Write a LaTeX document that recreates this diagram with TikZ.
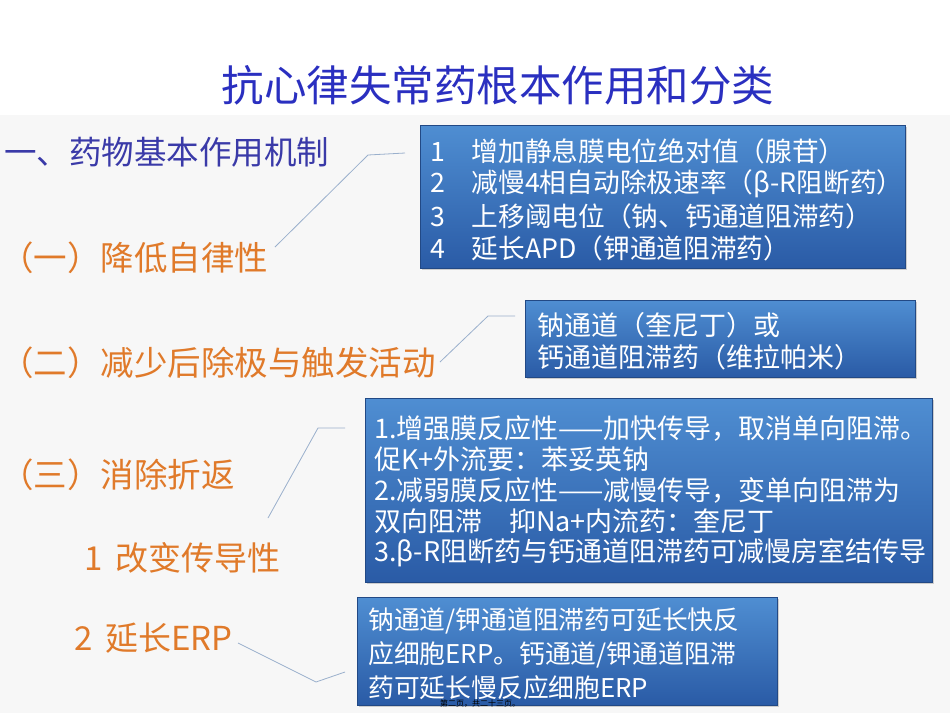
\documentclass[tikz,border=0pt]{standalone}
\usepackage{fontspec}
\setmainfont{Noto Sans CJK SC}
\usetikzlibrary{shadows}
\definecolor{ttl}{HTML}{2A2FC0}
\definecolor{hd}{HTML}{3A3AA8}
\definecolor{org}{HTML}{E07A2A}
\definecolor{btop}{HTML}{4F8ED2}
\definecolor{bbot}{HTML}{2A5BA6}
\definecolor{lnk}{HTML}{9AB0CC}
\tikzset{
  bluebox/.style={top color=btop,bottom color=bbot,draw=bbot!80!black,line width=0.6pt,drop shadow={shadow xshift=2pt,shadow yshift=-2pt,opacity=0.35}},
  bt/.style={anchor=west,inner sep=0,text=white,font=\fontsize{26.7}{30}\selectfont},
  lab/.style={anchor=west,inner sep=0,text=org,font=\fontsize{33.5}{36}\selectfont},
  link/.style={draw=lnk,line width=0.8pt}
}
\begin{document}
\begin{tikzpicture}[x=1pt,y=-1pt]
\fill[white] (0,0) rectangle (950,713);
\fill[black!3] (0,115) rectangle (950,713);
\useasboundingbox (0,0) rectangle (950,713);
\node[inner sep=0,text=ttl,font=\fontsize{42.5}{46}\selectfont] (title) at (498,85) {抗心律失常药根本作用和分类};
\node[anchor=west,inner sep=0,text=hd,font=\fontsize{32.5}{36}\selectfont] (h1) at (4,152) {一、药物基本作用机制};
\node[lab] (l1) at (0,258) {（一）降低自律性};
\node[lab] (l2) at (0,363) {（二）减少后除极与触发活动};
\node[lab] (l3) at (0,475) {（三）消除折返};
\node[lab,font=\fontsize{33}{36}\selectfont] (l4) at (84,558) {1\, 改变传导性};
\node[lab,font=\fontsize{33}{36}\selectfont] (l5) at (74,638) {2\, 延长ERP};
% boxes
\path[bluebox] (420,125) rectangle (905,268);
\node[bt] (b1a) at (430,151) {1\quad 增加静息膜电位绝对值（腺苷）};
\node[bt] (b1b) at (430,184) {2\quad 减慢4相自动除极速率（β-R阻断药）};
\node[bt] (b1c) at (430,216) {3\quad 上移阈电位（钠、钙通道阻滞药）};
\node[bt] (b1d) at (430,248) {4\quad 延长APD（钾通道阻滞药）};
\path[bluebox] (525,300) rectangle (915,377);
\node[bt,font=\fontsize{27}{30}\selectfont] (b2a) at (537,325) {钠通道（奎尼丁）或};
\node[bt,font=\fontsize{27}{30}\selectfont] (b2b) at (537,357) {钙通道阻滞药（维拉帕米）};
\path[bluebox] (365,398) rectangle (932,582);
\node[bt,font=\fontsize{27}{30}\selectfont] (b3a) at (374,428) {1.增强膜反应性——加快传导，取消单向阻滞。};
\node[bt,font=\fontsize{27}{30}\selectfont] (b3b) at (374,459) {促K+外流要：苯妥英钠};
\node[bt,font=\fontsize{27}{30}\selectfont] (b3c) at (374,490) {2.减弱膜反应性——减慢传导，变单向阻滞为};
\node[bt,font=\fontsize{27}{30}\selectfont] (b3d) at (374,521) {双向阻滞\quad 抑Na+内流药：奎尼丁};
\node[bt,font=\fontsize{27}{30}\selectfont] (b3e) at (374,553) {3.β-R阻断药与钙通道阻滞药可减慢房室结传导};
\path[bluebox] (357,597) rectangle (777,705);
\node[bt,font=\fontsize{25.8}{30}\selectfont] (b4a) at (368,621) {钠通道/钾通道阻滞药可延长快反};
\node[bt,font=\fontsize{25.8}{30}\selectfont] (b4b) at (368,655) {应细胞ERP。钙通道/钾通道阻滞};
\node[bt,font=\fontsize{25.8}{30}\selectfont] (b4c) at (368,688) {药可延长慢反应细胞ERP};
\node[inner sep=0,font=\fontsize{8}{9}\selectfont] (foot) at (480,704) {第二页，共二十三页。};
% connectors
\coordinate (c1) at (368,155); \coordinate (e1) at (405,153);
\draw[link] (275,247) -- (c1) -- (e1);
\coordinate (c2) at (488,316); \coordinate (e2) at (515,316);
\draw[link] (440,362) -- (c2) -- (e2);
\coordinate (c3) at (318,428); \coordinate (e3) at (345,428);
\draw[link] (268,518) -- (c3) -- (e3);
\coordinate (c4) at (316,682); \coordinate (e4) at (345,672);
\draw[link] (238,643) -- (c4) -- (e4);
\end{tikzpicture}
\end{document}
